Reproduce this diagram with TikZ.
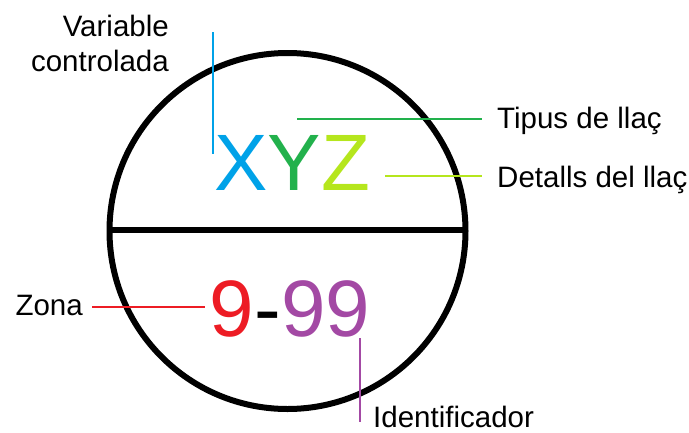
\documentclass[tikz,border=0pt]{standalone}
\usepackage{fontspec}
\setmainfont{Liberation Sans}
\definecolor{cblue}{HTML}{00A2E8}
\definecolor{cgreen}{HTML}{22B14C}
\definecolor{clime}{HTML}{B5E61D}
\definecolor{cred}{HTML}{ED1C24}
\definecolor{cpurple}{HTML}{A349A4}
\tikzset{
  lbl/.style={inner sep=0pt, font=\fontsize{29.5}{29.5}\selectfont},
  big/.style={inner sep=0pt, font=\fontsize{80}{80}\selectfont},
  conn/.style={line width=2pt},
}
\begin{document}
\begin{tikzpicture}[x=1pt,y=-1pt]
\useasboundingbox (0,0) rectangle (689,432);
% circle and divider
\draw[line width=6pt] (287.5,231) circle (178);
\draw[line width=6pt] (110,230) -- (465,230);
% big texts
\node[big, anchor=base west, text=cblue] (X) at (214,190) {X};
\node[big, anchor=base west, text=cgreen] (Y) at (X.base east) {Y};
\node[big, anchor=base west, text=clime] (Z) at (Y.base east) {Z};
\node[big, anchor=base west, text=cred] (n9) at (209,336) {9};
\node[big, anchor=base west] (dash) at (n9.base east) {-};
\node[big, anchor=base west, text=cpurple] (n99) at (dash.base east) {99};
% labels
\node[lbl, anchor=base east] (var1) at (169,36) {Variable};
\node[lbl, anchor=base east] (var2) at (169,71) {controlada};
\node[lbl, anchor=base west] (tip) at (497,128) {Tipus de llaç};
\node[lbl, anchor=base west] (det) at (497,187) {Detalls del llaç};
\node[lbl, anchor=base east] (zona) at (83,315) {Zona};
\node[lbl, anchor=base west] (ident) at (373,427) {Identificador};
% connector endpoints
\coordinate (b1) at (213,32);
\coordinate (b2) at (213,154);
\coordinate (g1) at (297,119);
\coordinate (g2) at (482,119);
\coordinate (l1) at (385,176);
\coordinate (l2) at (482,176);
\coordinate (r1) at (92,307);
\coordinate (r2) at (205,307);
\coordinate (p1) at (360,338);
\coordinate (p2) at (360,422);
\draw[conn, cblue] (b1) -- (b2);
\draw[conn, cgreen] (g1) -- (g2);
\draw[conn, clime] (l1) -- (l2);
\draw[conn, cred] (r1) -- (r2);
\draw[conn, cpurple] (p1) -- (p2);
\end{tikzpicture}
\end{document}
